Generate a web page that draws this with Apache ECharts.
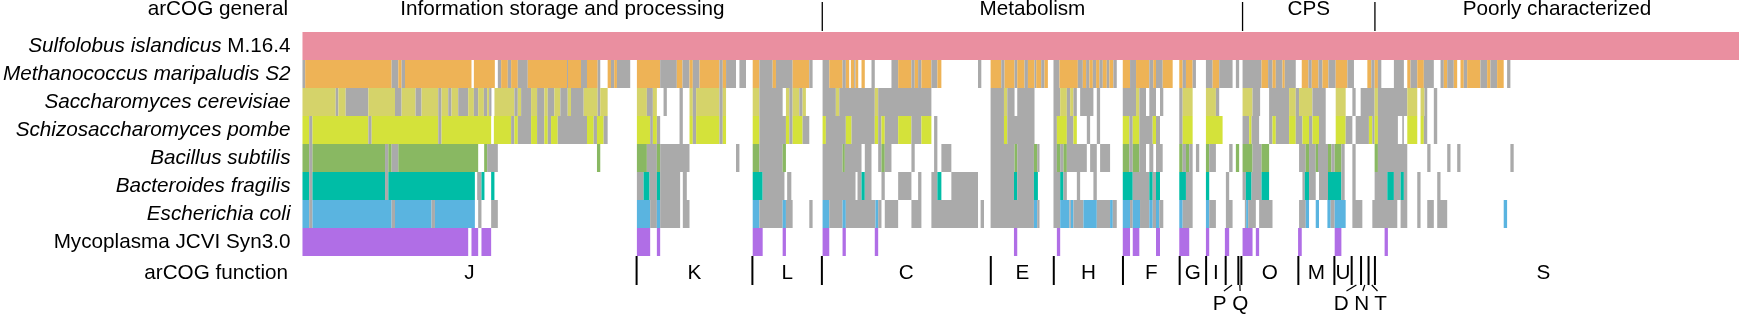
<!DOCTYPE html>
<html>
<head>
<meta charset="utf-8">
<script src="https://cdn.jsdelivr.net/npm/echarts@6/dist/echarts.min.js"></script>
<style>
  html, body { margin: 0; padding: 0; background: #fff; }
  #chart { width: 1739px; height: 315px; }
</style>
</head>
<body>
<div id="chart"></div>
<script>
// organism rows: italic part + plain part
const organisms = [
  ['Sulfolobus islandicus ', 'M.16.4'],
  ['Methanococcus maripaludis S2', ''],
  ['Saccharomyces cerevisiae', ''],
  ['Schizosaccharomyces pombe', ''],
  ['Bacillus subtilis', ''],
  ['Bacteroides fragilis', ''],
  ['Escherichia coli', ''],
  ['', 'Mycoplasma JCVI Syn3.0']
];
const rowColors = ['#EA8FA0', '#EEB356', '#D5D36A', '#D4E23A', '#89B862', '#00BDA6', '#5AB4E0', '#B06EE6'];
const GRAY = '#AAAAAA';

// arCOG general categories [name, start, end] (gene rank units)
const generalCats = [
  ['Information storage and processing', 0, 520.7],
  ['Metabolism', 520.7, 941.7],
  ['CPS', 941.7, 1074.3],
  ['Poorly characterized', 1074.3, 1439]
];
// arCOG functions [letter, start, end, label x (optional), label below?]
const funcCats = [
  ['J', 0, 334.7], ['K', 334.7, 450.7], ['L', 450.7, 520.3], ['C', 520.3, 689.5],
  ['E', 689.5, 752.6], ['H', 752.6, 821.9], ['F', 821.9, 878.7], ['G', 878.7, 905.2],
  ['I', 905.2, 924.8], ['P', 924.8, 937.5, 918.7, true], ['Q', 937.5, 940.5, 939.4, true],
  ['O', 940.5, 997.6], ['M', 997.6, 1033.7], ['U', 1033.7, 1051],
  ['D', 1051, 1060.4, 1040.5, true], ['N', 1060.4, 1067.9, 1061, true], ['T', 1067.9, 1074.3, 1080, true],
  ['S', 1074.3, 1439, 1243, false]
];
const TOTAL = 1439;

// runs per organism: [start, end, 'c' = ortholog (row colour) | 'g' = gray]; gaps are white
const sulfolobus = [[0, 1439, 'c']];
const methanococcus = [
  [0,2.7,'g'],[2.7,89.3,'c'],[89.3,96,'g'],[96,99.3,'c'],[99.3,102.7,'g'],[102.7,169.3,'c'],[171.7,192.7,'c'],
  [195.7,199,'g'],[199,205.7,'c'],[205.7,209,'g'],[209,215.7,'c'],[215.7,225.7,'g'],[225.7,265,'c'],[265,266,'g'],[266,279,'c'],[279,285,'g'],[285,295.7,'c'],[295.7,298.3,'g'],
  [305.7,309,'c'],[309,312.3,'g'],[312.3,315,'c'],[315,328.3,'g'],
  [335,358.3,'c'],[358.3,375,'g'],[375,380.7,'c'],[380.7,387.7,'g'],[387.7,391,'c'],[391,397.7,'g'],[397.7,417.7,'c'],[417.7,421,'g'],[421,424.3,'c'],[424.3,434.3,'g'],[437.7,444.3,'g'],
  [451,457.7,'c'],[457.7,471,'g'],[471,474.3,'c'],[474.3,491,'g'],[491,507.7,'c'],[507.7,511,'g'],
  [521,527.7,'g'],[527.7,541,'c'],[541,544.3,'g'],[544.3,547.7,'c'],[549.3,552.7,'c'],[552.7,554,'g'],[554,556.7,'c'],[560,563.3,'c'],[570,573.3,'g'],[590,596.7,'g'],[596.7,610,'c'],[610,613.3,'g'],[613.3,616.7,'c'],[616.7,620,'g'],[620,630,'c'],[630,636,'g'],[636,640,'c'],[676.7,680,'g'],
  [689.3,700,'c'],[700,703.3,'g'],[703.3,713.3,'c'],[713.3,716,'g'],[716,723.3,'c'],[723.3,726.7,'g'],[726.7,733.3,'c'],[733.3,735,'g'],[735,740,'c'],[740,743.3,'g'],[743.3,746.7,'c'],
  [752.3,758.3,'g'],[758.3,776.7,'c'],[776.7,781.7,'g'],[781.7,785,'c'],[785,788.3,'g'],[788.3,791.7,'c'],[791.7,795,'g'],[795,798.3,'c'],[798.3,801.7,'g'],[801.7,805.7,'c'],[805.7,808.3,'g'],[808.3,812.3,'c'],[812.3,815.7,'g'],
  [821.7,829,'c'],[829,835,'g'],[835,848.3,'c'],[848.3,852.3,'g'],[852.3,855,'c'],[855,861.7,'g'],[861.7,871.7,'c'],
  [878.3,881.7,'c'],[881.7,885,'g'],[885,891.7,'c'],[891.7,895,'g'],
  [905,911.7,'g'],[911.7,918.3,'c'],[918.3,931.7,'g'],[935,938.3,'g'],
  [941.7,960.7,'g'],[960.7,967.3,'c'],[967.3,971.7,'g'],[971.7,975,'c'],[975,981.7,'g'],[981.7,984,'c'],[984,995,'g'],
  [1001,1007.7,'c'],[1007.7,1011,'g'],[1011,1017.7,'c'],[1017.7,1021.7,'g'],[1021.7,1027.7,'c'],[1027.7,1035,'g'],[1035,1046.7,'c'],[1046.7,1053.3,'g'],
  [1066.7,1070.7,'c'],[1070.7,1074,'g'],[1074,1077.3,'c'],[1077.3,1080.7,'g'],
  [1093.3,1103.3,'g'],[1106.7,1110,'c'],[1110,1116.7,'g'],[1116.7,1123.3,'c'],[1123.3,1133.3,'g'],[1140,1143.3,'g'],[1143.3,1146.7,'c'],[1146.7,1153.3,'g'],[1153.3,1156.7,'c'],
  [1160,1163.3,'c'],[1163.3,1166.7,'g'],[1166.7,1180,'c'],[1180,1186.7,'g'],[1186.7,1190,'c'],[1190,1196.7,'g'],[1196.7,1203.3,'c'],[1206.7,1210,'g']
];
const saccharomyces = [
  [0,33.3,'c'],[33.3,36,'g'],[36,43.3,'c'],[43.3,66,'g'],[66,92.7,'c'],[92.7,99.3,'g'],[99.3,113.3,'c'],[113.3,119.3,'g'],[119.3,136,'c'],[136,139.3,'g'],[139.3,146,'c'],[146,149.3,'g'],[149.3,156,'c'],[156,166,'g'],[166,171.7,'c'],[171.7,176,'g'],[176,181.7,'c'],[181.7,185,'g'],[185,187,'c'],[187,189.3,'g'],
  [192.3,212.3,'c'],[212.3,215.7,'g'],[215.7,219,'c'],[219,229,'g'],[229,235,'c'],[235,242.3,'g'],[242.3,245.7,'c'],[245.7,252.3,'g'],[252.3,258.3,'c'],[258.3,265.7,'g'],[265.7,269,'c'],[269,281.7,'g'],[281.7,295.7,'c'],[295.7,298.3,'g'],[298.3,305.7,'c'],
  [335,345,'c'],[345,351,'g'],[351,355,'c'],[361.7,365,'g'],[377.7,381,'g'],[387.7,391,'c'],[391,394.3,'g'],[394.3,417.7,'c'],[417.7,421,'g'],[421,424.3,'c'],
  [451,457.7,'c'],[457.7,481,'g'],[484.3,487.7,'c'],[487.7,491,'g'],[491,497.7,'c'],[497.7,501,'g'],[501,504.3,'c'],
  [521,534.3,'g'],[534.3,537.7,'c'],[537.7,573.3,'g'],[573.3,576.7,'c'],[576.7,630,'g'],
  [689.3,702.7,'g'],[702.7,706,'c'],[706,713.3,'g'],[716,733.3,'g'],
  [752.3,759,'g'],[759,765.7,'c'],[765.7,769,'g'],[769,772.3,'c'],[772.3,775.7,'g'],[779,792.3,'g'],[795.7,799,'g'],
  [821.7,835,'g'],[835,838.3,'c'],[838.3,845,'g'],[848.3,855,'g'],[859,862.3,'g'],
  [878.3,881.7,'g'],[881.7,891.7,'c'],[905,915,'c'],[915,918.3,'g'],
  [941.7,951.7,'c'],[951.7,959.3,'g'],[968.3,988.3,'g'],[988.3,995,'c'],[995,998.3,'g'],[998.3,1011.7,'c'],[1011.7,1025,'g'],
  [1035,1045,'c'],[1051.7,1055,'g'],[1060,1074,'g'],[1074,1077.3,'c'],[1077.3,1106.7,'g'],[1106.7,1116.7,'c'],[1120,1124,'c'],[1124,1126.7,'g'],[1133.3,1136.7,'g']
];
const schizosaccharomyces = [
  [0,6.7,'c'],[6.7,10,'g'],[10,66,'c'],[66,69.3,'g'],[69.3,136,'c'],[136,139.3,'g'],[139.3,189,'c'],
  [191.7,209,'c'],[209,212.3,'g'],[212.3,215.7,'c'],[215.7,229,'g'],[229,235,'c'],[235,242.3,'g'],[242.3,245.7,'c'],[245.7,249,'g'],[249,255.7,'c'],[255.7,285,'g'],[285,291.7,'c'],[291.7,295,'g'],[295,301.7,'c'],[301.7,305.7,'g'],
  [335,348.3,'c'],[348.3,351,'g'],[351,355,'c'],[355,358.3,'g'],[377.7,381,'g'],[387.7,391,'c'],[391,394.3,'g'],[394.3,417.7,'c'],[417.7,421,'g'],[421,424.3,'c'],
  [451,457.7,'c'],[457.7,484.3,'g'],[484.3,487.7,'c'],[487.7,491,'g'],[491,501,'c'],[501,507.7,'g'],
  [521,524.3,'c'],[524.3,544.3,'g'],[544.3,550,'c'],[550,573.3,'g'],[573.3,576.7,'c'],[576.7,580,'g'],[580,583.3,'c'],[583.3,596.7,'g'],[596.7,610,'c'],[610,620,'g'],[620,630,'c'],[632.7,636,'g'],
  [689.3,702.7,'g'],[702.7,706,'c'],[706,733.3,'g'],
  [752.3,755.7,'g'],[755.7,765.7,'c'],[765.7,772.3,'g'],[772.3,775.7,'c'],[785.7,789,'g'],[795.7,799,'g'],
  [821.7,828.3,'c'],[828.3,831.7,'g'],[831.7,838.3,'c'],[838.3,851.7,'g'],[851.7,855,'c'],[855,859,'g'],
  [878.3,881.7,'g'],[881.7,891.7,'c'],[905,921.7,'c'],
  [941.7,948.3,'g'],[948.3,950.7,'c'],[950.7,958.3,'g'],[968.3,971.7,'g'],[971.7,975,'c'],[975,988.3,'g'],[988.3,995,'c'],[995,1001.7,'g'],[1001.7,1008.3,'c'],[1008.3,1011.7,'g'],[1011.7,1018.3,'c'],[1018.3,1025,'g'],
  [1035,1045,'c'],[1045,1051.7,'g'],[1055,1068.3,'g'],[1068.3,1071.7,'c'],[1071.7,1074,'g'],[1074,1077.3,'c'],[1077.3,1097.3,'g'],[1101.7,1103.3,'g'],[1106.7,1116.7,'c'],[1120,1123.3,'c'],[1123.3,1126.7,'g'],[1133.3,1136.7,'g']
];
const bacillus = [
  [0,6.7,'c'],[6.7,10,'g'],[10,82.7,'c'],[82.7,86,'g'],[86,89.3,'c'],[89.3,96,'g'],[96,176,'c'],[182,185,'c'],[185,195.7,'g'],
  [295,298.3,'c'],
  [335,345,'c'],[345,355,'g'],[355,358.3,'c'],[358.3,387.7,'g'],[434.3,437.7,'g'],
  [451,457.7,'c'],[457.7,481,'g'],[481,484.3,'c'],
  [521,541,'g'],[541,543.3,'c'],[543.3,560,'g'],[563.3,570,'g'],[576.7,580,'g'],[580,583.3,'c'],[583.3,590,'g'],[610,613.3,'g'],[632.7,636,'g'],[640,650,'g'],
  [689.3,713.3,'g'],[713.3,716,'c'],[716,732.7,'g'],[732.7,736,'c'],[736,738.3,'g'],
  [752.3,755.7,'g'],[755.7,759,'c'],[759,762.3,'g'],[762.3,765.7,'c'],[765.7,785.7,'g'],[789,795.7,'g'],[799,809,'g'],
  [821.7,828.3,'c'],[828.3,831.7,'g'],[831.7,838.3,'c'],[838.3,845,'g'],[848.3,852.3,'g'],[855,861.7,'g'],
  [878.3,881.7,'c'],[881.7,885,'g'],[885,888.3,'c'],[888.3,891.7,'g'],[895,898.3,'g'],
  [905,908.3,'c'],[908.3,915,'g'],[928.3,931.7,'g'],[935,938.3,'c'],
  [941.7,951.7,'c'],[951.7,960.7,'g'],[960.7,968.3,'c'],
  [998.3,1005,'g'],[1005,1008.3,'c'],[1008.3,1015,'g'],[1015,1017.3,'c'],[1017.3,1027.3,'g'],[1027.3,1030.7,'c'],[1030.7,1034,'g'],[1034,1040.7,'c'],[1040.7,1044,'g'],[1051.7,1055,'g'],
  [1074,1077.3,'c'],[1077.3,1106.7,'g'],[1126.7,1130,'g'],[1146.7,1150,'g'],[1156.7,1160,'g'],[1210,1213.3,'g']
];
const bacteroides = [
  [0,6.7,'c'],[6.7,10,'g'],[10,82.7,'c'],[82.7,86,'g'],[86,172.7,'c'],[175,179.3,'g'],[179.3,182.3,'c'],[189,192.3,'c'],
  [335,341.7,'g'],[341.7,347.7,'c'],[347.7,355,'g'],[355,358.3,'c'],[358.3,378.3,'g'],[381,385,'g'],
  [451,461,'c'],[461,482.8,'g'],[485.5,489.7,'g'],
  [521,554,'g'],[556,560,'g'],[560,563.3,'c'],[563.3,570,'g'],[580,583.3,'g'],[596.7,610,'g'],[616.7,620,'g'],[630,636,'g'],[636,640,'c'],[650,676.7,'g'],
  [689.3,712.7,'g'],[712.7,716,'c'],[716,732.7,'g'],[732.7,736.7,'c'],
  [752.3,759,'g'],[759,762.3,'c'],[762.3,765.7,'g'],[775.7,779,'g'],[792.3,795.7,'g'],
  [821.7,831.7,'c'],[831.7,848.3,'g'],[848.3,851.7,'c'],[851.7,855,'g'],[855,859,'c'],
  [878.3,885,'c'],[885,891.7,'g'],[905,908.3,'c'],[925,928.3,'g'],
  [941.7,945,'g'],[945,950.7,'c'],[950.7,960.7,'g'],[960.7,968.3,'c'],
  [1001.7,1004,'g'],[1004,1008.3,'c'],[1008.3,1015,'g'],[1018.3,1027.3,'g'],[1027.3,1040.7,'c'],[1040.7,1044,'g'],[1051.7,1055,'g'],
  [1074,1086.7,'g'],[1086.7,1093.3,'c'],[1093.3,1100,'g'],[1100,1103.3,'c'],[1103.3,1106.7,'g'],[1116.7,1120,'g'],[1136.7,1140,'g']
];
const escherichia = [
  [0,6.7,'c'],[6.7,10,'g'],[10,89.3,'c'],[89.3,92.7,'g'],[92.7,129.3,'c'],[129.3,132.7,'g'],[132.7,172.7,'c'],[176,179.3,'g'],[189,195.7,'g'],
  [335,348.3,'c'],[348.3,355,'g'],[355,358.3,'c'],[358.3,378.3,'g'],[381,387.7,'g'],
  [451,457.7,'c'],[457.7,481,'g'],[481,484.3,'c'],[484.3,491,'g'],[507.7,511,'g'],
  [521,527.7,'c'],[527.7,541,'g'],[541,544.3,'c'],[544.3,574,'g'],[574,576.7,'c'],[576.7,580,'g'],[583.3,596.7,'g'],[610,620,'g'],[630,676.7,'g'],[679.3,682.7,'g'],
  [689.3,732.7,'g'],[732.7,736,'c'],[736,738.3,'g'],
  [752.3,759,'g'],[759,768.3,'c'],[768.3,769.7,'g'],[769.7,772.3,'c'],[772.3,782.3,'g'],[782.3,795.7,'c'],[795.7,809,'g'],[809,811.7,'c'],[811.7,815.7,'g'],
  [821.7,829,'c'],[829,831.7,'g'],[831.7,839,'c'],[839,848.3,'g'],[848.3,851.7,'c'],[851.7,855,'g'],[855,858.3,'c'],[858.3,862.3,'g'],
  [878.3,881.7,'c'],[881.7,891.7,'g'],[905,908.3,'c'],[908.3,915,'g'],[925,931.7,'g'],
  [944,945.3,'g'],[945.3,947.3,'c'],[947.3,955,'g'],[958.3,971.7,'g'],
  [998.3,1005,'g'],[1005,1008.3,'c'],[1015,1018.3,'c'],[1026.7,1030,'c'],[1030,1034,'g'],[1034,1045,'c'],[1051.7,1061.7,'g'],
  [1071.7,1096.7,'g'],[1100,1106.7,'g'],[1116.7,1120,'g'],[1126.7,1133.3,'g'],[1136.7,1146.7,'g'],[1203.3,1206.7,'c']
];
const mycoplasma = [
  [0,166,'c'],[169.3,176,'c'],[179.3,189,'c'],[335,348.3,'c'],[355,358.3,'c'],[451,461,'c'],[481,484.3,'c'],
  [521,527.7,'c'],[541,544.3,'c'],[573.3,576.7,'c'],[712.7,716,'c'],[755.7,759,'c'],[821.7,829,'c'],[831.7,838.3,'c'],
  [855,859,'c'],[878.3,888.3,'c'],[905,908.3,'c'],[924,928.3,'c'],[941.7,951.7,'c'],[955,958.3,'c'],[997.3,1001,'c'],
  [1034,1040.7,'c'],[1084,1087.3,'c']
];

const rows = [sulfolobus, methanococcus, saccharomyces, schizosaccharomyces, bacillus, bacteroides, escherichia, mycoplasma];

const FONT_FAMILY = '"Liberation Sans", Arial, sans-serif';
const FS = 20.7;
const FONT = FS + 'px ' + FONT_FAMILY;

const cellData = [];
rows.forEach((segs, r) => {
  segs.forEach(([s, e, k]) => cellData.push([s, e, r, k === 'g' ? 0 : 1]));
});

const renderCell = (params, api) => {
  const p0 = api.coord([api.value(0), api.value(2)]);
  const p1 = api.coord([api.value(1), api.value(2)]);
  const h = api.size([0, 1])[1];
  const row = api.value(2);
  return {
    type: 'rect',
    shape: { x: p0[0], y: p0[1] - h / 2, width: p1[0] - p0[0], height: h },
    style: { fill: api.value(3) === 0 ? GRAY : rowColors[row] }
  };
};

const renderGeneral = (params, api) => {
  const cs = params.coordSys;
  const s = api.value(0), e = api.value(1);
  const x0 = api.coord([s, 0])[0], x1 = api.coord([e, 0])[0];
  const children = [{
    type: 'text',
    style: { x: (x0 + x1) / 2, y: cs.y - 23, text: generalCats[params.dataIndex][0], font: FONT, fill: '#000', align: 'center', verticalAlign: 'middle' }
  }];
  if (s > 0) {
    children.push({
      type: 'line',
      shape: { x1: x0, y1: cs.y - 30, x2: x0, y2: cs.y - 1 },
      style: { stroke: '#000', lineWidth: 1.3 }
    });
  }
  return { type: 'group', children };
};

const renderFunction = (params, api) => {
  const cs = params.coordSys;
  const bottom = cs.y + cs.height;
  const item = funcCats[params.dataIndex];
  const s = api.value(0), e = api.value(1);
  const x0 = api.coord([s, 0])[0], x1 = api.coord([e, 0])[0];
  const cx = (x0 + x1) / 2;
  const children = [];
  if (s > 0) {
    children.push({
      type: 'line',
      shape: { x1: x0, y1: bottom, x2: x0, y2: bottom + 29 },
      style: { stroke: '#000', lineWidth: 2 }
    });
  }
  const lx = item[3] != null ? api.coord([item[3], 0])[0] : cx;
  if (item[4]) {
    children.push({
      type: 'line',
      shape: { x1: cx, y1: bottom + 29, x2: lx + (cx - lx) * 0.35, y2: bottom + 35 },
      style: { stroke: '#000', lineWidth: 1.2 }
    });
    children.push({
      type: 'text',
      style: { x: lx, y: bottom + 48, text: item[0], font: FONT, fill: '#000', align: 'center', verticalAlign: 'middle' }
    });
  } else {
    children.push({
      type: 'text',
      style: { x: lx, y: bottom + 17, text: item[0], font: FONT, fill: '#000', align: 'center', verticalAlign: 'middle' }
    });
  }
  return { type: 'group', children };
};

const chart = echarts.init(document.getElementById('chart'), null, { renderer: 'canvas' });

const option = {
  animation: false,
  backgroundColor: '#fff',
  grid: { left: 300, right: 0, top: 32, height: 224 },
  xAxis: {
    type: 'value',
    min: 0,
    max: TOTAL,
    show: false
  },
  yAxis: {
    type: 'category',
    inverse: true,
    data: organisms.map((o) => o[0] + o[1]),
    axisLine: { show: false },
    axisTick: { show: false },
    splitLine: { show: false },
    axisLabel: {
      margin: 12,
      color: '#000',
      fontSize: FS,
      fontFamily: FONT_FAMILY,
      formatter: (value, idx) => {
        const o = organisms[idx];
        let out = '';
        if (o[0]) out += '{i|' + o[0] + '}';
        if (o[1]) out += '{n|' + o[1] + '}';
        return out;
      },
      rich: {
        i: { fontStyle: 'italic', fontSize: FS, fontFamily: FONT_FAMILY, color: '#000' },
        n: { fontStyle: 'normal', fontSize: FS, fontFamily: FONT_FAMILY, color: '#000' }
      }
    }
  },
  graphic: [
    { type: 'text', x: 288, y: 9, style: { text: 'arCOG general', font: FONT, fill: '#000', align: 'right', verticalAlign: 'middle' } },
    { type: 'text', x: 288, y: 273, style: { text: 'arCOG function', font: FONT, fill: '#000', align: 'right', verticalAlign: 'middle' } }
  ],
  series: [
    {
      name: 'cells',
      type: 'custom',
      renderItem: renderCell,
      encode: { x: [0, 1], y: 2 },
      data: cellData,
      silent: true
    },
    {
      name: 'general',
      type: 'custom',
      clip: false,
      renderItem: renderGeneral,
      encode: { x: [0, 1], y: 2 },
      data: generalCats.map((c) => [c[1], c[2], 0]),
      silent: true
    },
    {
      name: 'function',
      type: 'custom',
      clip: false,
      renderItem: renderFunction,
      encode: { x: [0, 1], y: 2 },
      data: funcCats.map((c) => [c[1], c[2], 0]),
      silent: true
    }
  ]
};

chart.setOption(option);
</script>
</body>
</html>
